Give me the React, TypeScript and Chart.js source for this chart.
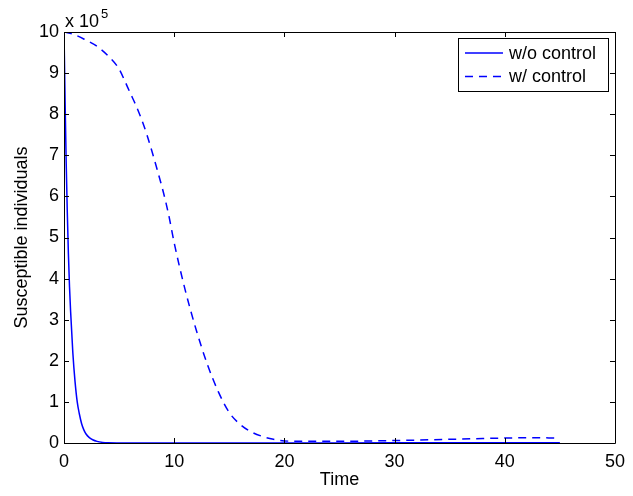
import React, { useEffect, useRef } from "react";
import { Chart, registerables } from "chart.js";

Chart.register(...registerables);

// Time axis (x) and susceptible individuals (y, in units of 1e5)
const timeNoControl = [0, 0.1, 0.2, 0.3, 0.4, 0.5, 0.6, 0.8, 1.0, 1.2, 1.4, 1.6, 1.8, 2.0, 2.3, 2.6, 3.0, 3.5, 4.0, 5.0, 7.0, 10, 15, 20, 25, 30, 35, 40, 45];
const valuesNoControl = [10, 8.3, 6.8, 5.6, 4.6, 3.8, 3.2, 2.2, 1.5, 1.0, 0.7, 0.47, 0.32, 0.22, 0.13, 0.08, 0.04, 0.015, 0.005, 0.002, 0.001, 0.001, 0.001, 0.002, 0.003, 0.004, 0.005, 0.006, 0.006];

const timeControl = [0, 1, 2, 3, 4, 5, 5.5, 6, 6.5, 7, 7.5, 8, 8.5, 9, 9.5, 10, 11, 12, 13, 14, 15, 16, 17, 18, 19, 20, 22, 25, 28, 30, 32, 35, 38, 40, 42, 45];
const valuesControl = [10, 9.93, 9.8, 9.65, 9.42, 9.1, 8.82, 8.52, 8.23, 7.9, 7.52, 7.08, 6.61, 6.12, 5.55, 4.87, 3.72, 2.75, 1.92, 1.25, 0.74, 0.45, 0.27, 0.16, 0.09, 0.05, 0.04, 0.04, 0.05, 0.06, 0.07, 0.09, 0.11, 0.12, 0.13, 0.12];

const seriesLabels = ["w/o control", "w/ control"];
const xTicks = [0, 10, 20, 30, 40, 50];
const yTicks = [0, 1, 2, 3, 4, 5, 6, 7, 8, 9, 10];
const xTitle = "Time";
const yTitle = "Susceptible individuals";
const exponentBase = "x 10";
const exponentPower = "5";

const FONT = "'Liberation Sans', Arial, Helvetica, sans-serif";
const FS = 18;

const framePlugin = {
  id: "matlabFrame",
  afterDatasetsDraw(chart: any) {
    const { ctx, chartArea: a, scales } = chart;
    const xs = scales.x;
    const ys = scales.y;
    ctx.save();
    ctx.strokeStyle = "#000";
    ctx.lineWidth = 1;
    ctx.beginPath();
    ctx.rect(Math.round(a.left) + 0.5, Math.round(a.top) + 0.5, Math.round(a.right - a.left), Math.round(a.bottom - a.top));
    ctx.stroke();
    const tl = 5;
    ctx.beginPath();
    xTicks.forEach((v) => {
      const px = Math.round(xs.getPixelForValue(v)) + 0.5;
      ctx.moveTo(px, a.bottom);
      ctx.lineTo(px, a.bottom - tl);
      ctx.moveTo(px, a.top);
      ctx.lineTo(px, a.top + tl);
    });
    yTicks.forEach((v) => {
      const py = Math.round(ys.getPixelForValue(v)) + 0.5;
      ctx.moveTo(a.left, py);
      ctx.lineTo(a.left + tl, py);
      ctx.moveTo(a.right, py);
      ctx.lineTo(a.right - tl, py);
    });
    ctx.stroke();

    // exponent label
    ctx.fillStyle = "#000";
    ctx.textBaseline = "alphabetic";
    ctx.textAlign = "left";
    ctx.font = `${FS}px ${FONT}`;
    ctx.fillText(exponentBase, a.left + 1, a.top - 5);
    const w = ctx.measureText(exponentBase).width;
    ctx.font = `13px ${FONT}`;
    ctx.fillText(exponentPower, a.left + 1 + w + 2, a.top - 14);

    // legend
    const bx = a.right - 157;
    const by = a.top + 6;
    const bw = 150;
    const bh = 53;
    ctx.fillStyle = "#fff";
    ctx.fillRect(bx, by, bw, bh);
    ctx.strokeStyle = "#000";
    ctx.strokeRect(Math.round(bx) + 0.5, Math.round(by) + 0.5, bw, bh);
    chart.data.datasets.forEach((ds: any, i: number) => {
      const cy = by + 15 + i * 23.5;
      ctx.save();
      ctx.strokeStyle = ds.borderColor;
      ctx.lineWidth = ds.borderWidth;
      ctx.setLineDash(ds.borderDash || []);
      ctx.beginPath();
      ctx.moveTo(bx + 7, cy);
      ctx.lineTo(bx + 45, cy);
      ctx.stroke();
      ctx.restore();
      ctx.fillStyle = "#000";
      ctx.font = `${FS}px ${FONT}`;
      ctx.textBaseline = "middle";
      ctx.fillText(ds.label, bx + 51, cy + 1);
    });
    ctx.restore();
  },
};

export default function App() {
  const ref = useRef<HTMLCanvasElement>(null);
  useEffect(() => {
    document.body.style.margin = "0";
    const canvas = ref.current!;
    const chart = new Chart(canvas, {
      type: "line",
      data: {
        datasets: [
          {
            label: seriesLabels[0],
            data: timeNoControl.map((t, i) => ({ x: t, y: valuesNoControl[i] })),
            borderColor: "#0000ff",
            borderWidth: 1.5,
            pointRadius: 0,
            cubicInterpolationMode: "monotone",
            fill: false,
          },
          {
            label: seriesLabels[1],
            data: timeControl.map((t, i) => ({ x: t, y: valuesControl[i] })),
            borderColor: "#0000ff",
            borderWidth: 1.5,
            borderDash: [8, 6],
            pointRadius: 0,
            cubicInterpolationMode: "monotone",
            fill: false,
          },
        ],
      },
      options: {
        responsive: false,
        animation: false,
        devicePixelRatio: 1,
        layout: { padding: { left: 0, right: 11, top: 32, bottom: 0 } },
        plugins: { legend: { display: false }, tooltip: { enabled: false } },
        scales: {
          x: {
            type: "linear",
            min: 0,
            max: 50,
            afterBuildTicks: (s: any) => {
              s.ticks = xTicks.map((v) => ({ value: v }));
            },
            grid: { display: false, drawTicks: false },
            border: { display: false },
            ticks: { color: "#000", font: { family: FONT, size: FS }, padding: 8, maxRotation: 0 },
            title: { display: true, text: xTitle, color: "#000", font: { family: FONT, size: FS }, padding: { top: 0, bottom: 5 } },
            afterFit: (s: any) => {
              s.height = 53;
            },
          },
          y: {
            type: "linear",
            min: 0,
            max: 10,
            afterBuildTicks: (s: any) => {
              s.ticks = yTicks.map((v) => ({ value: v }));
            },
            grid: { display: false, drawTicks: false },
            border: { display: false },
            ticks: { color: "#000", font: { family: FONT, size: FS }, padding: 5 },
            title: { display: true, text: yTitle, color: "#000", font: { family: FONT, size: FS }, padding: { top: 11, bottom: 0 } },
            afterFit: (s: any) => {
              s.width = 64;
            },
          },
        },
      },
      plugins: [framePlugin],
    } as any);
    return () => chart.destroy();
  }, []);
  return (
    <div style={{ position: "absolute", left: 0, top: 0, width: 633, height: 496 }}>
      <canvas ref={ref} width={633} height={496} />
    </div>
  );
}
